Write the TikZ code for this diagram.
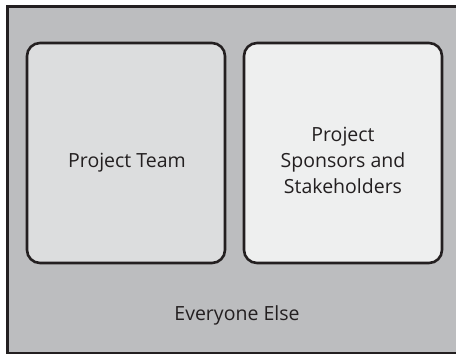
\documentclass[tikz,border=0pt]{standalone}
\usepackage{fontspec}
\setmainfont{Open Sans}
\definecolor{outerfill}{HTML}{BCBDBF}
\definecolor{teamfill}{HTML}{DCDDDE}
\definecolor{sponsorfill}{HTML}{EEEFEF}
\definecolor{edge}{HTML}{231F20}
\definecolor{txt}{HTML}{231F20}
\begin{document}
\begin{tikzpicture}[x=1bp,y=-1bp,
  box/.style={draw=edge,line width=2.6bp,rounded corners=13bp},
  lbl/.style={text=txt,inner sep=0pt,font=\fontsize{19.5bp}{26bp}\selectfont,align=center}]
\useasboundingbox (0,0) rectangle (456,353);
\begin{scope}
\clip (0,0) rectangle (456,353);
\draw[draw=edge,line width=2.6bp,fill=outerfill] (7.3,6.3) rectangle (470,353.6);
\end{scope}
\draw[box,fill=teamfill] (27,43) rectangle (225,263);
\draw[box,fill=sponsorfill] (244,43) rectangle (442,263);
\node[lbl,anchor=base] (team) at (127,167) {Project Team};
\node[lbl] (sponsors) at (343,160) {Project\\Sponsors and\\Stakeholders};
\node[lbl,anchor=base] (else) at (237,320) {Everyone Else};
\end{tikzpicture}
\end{document}
